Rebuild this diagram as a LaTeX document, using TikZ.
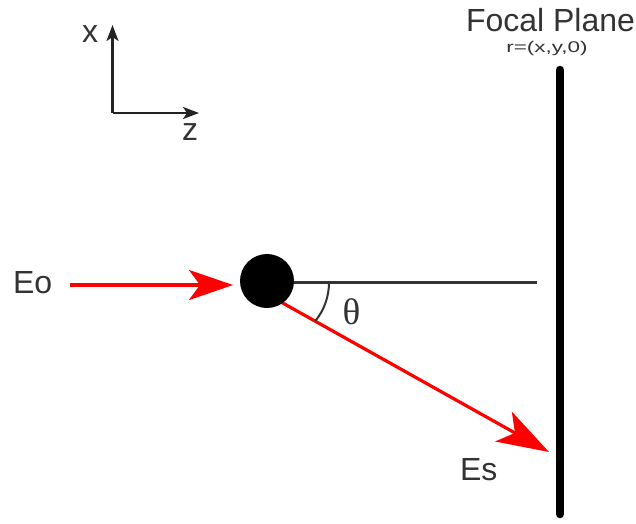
\documentclass[tikz,border=0pt]{standalone}
\usepackage{fontspec}
\setmainfont{Liberation Sans}
\newfontfamily\thetafont{Liberation Serif}
\usetikzlibrary{arrows.meta}
\definecolor{axgray}{HTML}{222222}
\definecolor{lngray}{HTML}{333333}
\tikzset{
  axisline/.style={draw=axgray, line width=2.2pt, -{Stealth[length=16pt,width=12pt,inset=4pt]}},
  beam/.style={draw=red, line width=3.2pt, -{Stealth[length=44pt,width=30pt,inset=11pt]}},
  bigbeam/.style={draw=red, line width=3.2pt, -{Stealth[length=52pt,width=34pt,inset=13pt]}},
  lbl/.style={inner sep=0pt, outer sep=0pt, text=black!80, font=\fontsize{32}{36}\selectfont},
}
\begin{document}
\begin{tikzpicture}[x=1pt, y=-1pt]
\useasboundingbox (0,0) rectangle (636,523);
% axes
\coordinate (o) at (112.5,113);
\coordinate (xt) at (112.5,25);
\coordinate (zt) at (199,113);
\draw[axisline] (o) -- (xt);
\draw[axisline] (o) -- (zt);
\node[lbl, anchor=base west] (xl) at (82,42) {x};
\node[lbl, anchor=base west] (zl) at (182,140) {z};
% focal plane
\coordinate (fpt) at (560,70);
\coordinate (fpb) at (560,514);
\draw[line width=8.5pt, line cap=round] (fpt) -- (fpb);
\node[lbl, anchor=base west] (fp) at (466,31.5) {Focal Plane};
\node[inner sep=0pt, text=black!80, anchor=base west, font=\fontsize{15.5}{18}\selectfont, xscale=1.45, transform shape] (rr) at (506,52) {r=(x,y,0)};
% ball and lines
\coordinate (bc) at (267,281);
\coordinate (hend) at (537,282.5);
\coordinate (hstart) at (267,282.5);
\draw[lngray, line width=2.4pt] (hstart) -- (hend);
\coordinate (sstart) at (272,297);
\coordinate (stip) at (549,452);
\draw[bigbeam] (sstart) -- (stip);
\node[circle, fill=black, minimum size=54pt, inner sep=0pt] (ball) at (bc) {};
\coordinate (inA) at (70,285);
\coordinate (inB) at (233,285);
\draw[beam] (inA) -- (inB);
% angle
\draw[lngray, line width=2pt] ([shift={(0:61)}]268,282.5) arc[start angle=0, end angle=39, radius=61];
\node[inner sep=0pt, font=\thetafont\fontsize{37}{40}\selectfont, text=black!80] (th) at (351.5,311.5) {θ};
% labels
\node[lbl, anchor=base west] (eo) at (13,293) {Eo};
\node[lbl, anchor=base west] (es) at (460,480) {Es};
\end{tikzpicture}
\end{document}
